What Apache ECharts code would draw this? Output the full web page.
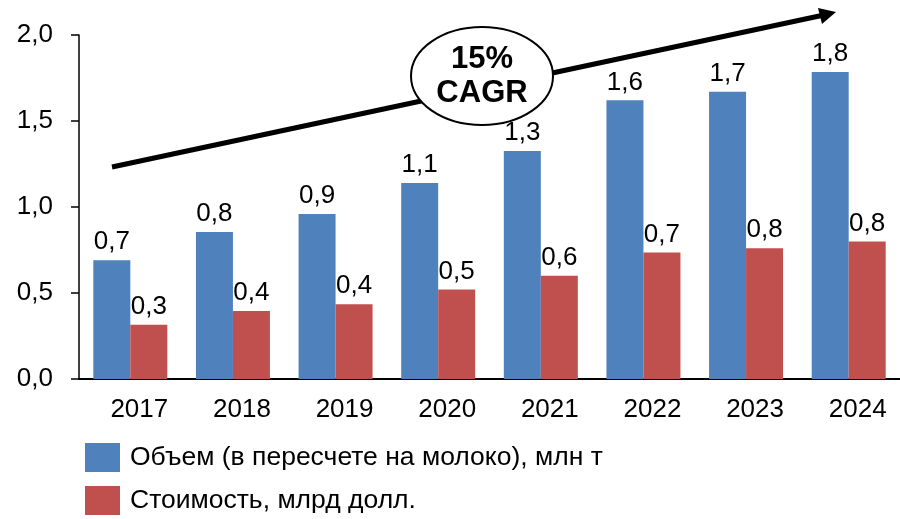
<!DOCTYPE html>
<html>
<head>
<meta charset="utf-8">
<title>Объем и стоимость</title>
<script src="https://cdn.jsdelivr.net/npm/echarts@6/dist/echarts.min.js"></script>
<style>
    html, body { margin: 0; padding: 0; background: #fff; }
    #chart { width: 900px; height: 519px; }
</style>
</head>
<body>
<div id="chart"></div>
<script>
// Data
// ------------------------------

var years = ['2017', '2018', '2019', '2020', '2021', '2022', '2023', '2024'];
var volumeValues = [0.69, 0.855, 0.96, 1.14, 1.325, 1.62, 1.67, 1.785];
var volumeLabels = ['0,7', '0,8', '0,9', '1,1', '1,3', '1,6', '1,7', '1,8'];
var costValues = [0.315, 0.395, 0.435, 0.52, 0.6, 0.735, 0.76, 0.8];
var costLabels = ['0,3', '0,4', '0,4', '0,5', '0,6', '0,7', '0,8', '0,8'];
var seriesNames = ['Объем (в пересчете на молоко), млн т', 'Стоимость, млрд долл.'];
var cagrText = '15%\nCAGR';


// Chart
// ------------------------------

document.addEventListener('DOMContentLoaded', function() {
    var chart_element = document.getElementById('chart');
    var chart = echarts.init(chart_element, null, { renderer: 'canvas' });

    var fontFamily = '"Liberation Sans", Arial, sans-serif';

    chart.setOption({
        animation: false,
        color: ['#4F81BD', '#C0504D'],
        textStyle: {
            fontFamily: fontFamily,
            color: '#000'
        },

        grid: {
            left: 79,
            top: 35,
            width: 825,
            bottom: 140,
            containLabel: false
        },

        legend: {
            orient: 'vertical',
            left: 85,
            top: 443,
            padding: 0,
            itemWidth: 35,
            itemHeight: 29,
            itemGap: 14,
            icon: 'rect',
            data: seriesNames,
            textStyle: {
                fontSize: 26.5,
                color: '#000',
                fontFamily: fontFamily,
                padding: [0, 0, 0, 5]
            }
        },

        xAxis: {
            type: 'category',
            data: years,
            axisLine: { lineStyle: { color: '#000', width: 2 } },
            axisTick: { show: false },
            axisLabel: {
                fontSize: 26,
                color: '#000',
                margin: 18,
                padding: [0, 0, 0, 18]
            }
        },

        yAxis: {
            type: 'value',
            min: 0,
            max: 2,
            interval: 0.5,
            splitLine: { show: false },
            axisLine: { show: true, lineStyle: { color: '#000', width: 1.5 } },
            axisTick: { show: true, length: 8, lineStyle: { color: '#000', width: 1.5 } },
            axisLabel: {
                fontSize: 26,
                color: '#000',
                margin: 26,
                formatter: function(v) { return v.toFixed(1).replace('.', ','); }
            }
        },

        series: [
            {
                name: seriesNames[0],
                type: 'bar',
                barWidth: 37,
                barGap: '0%',
                data: volumeValues,
                label: {
                    show: true,
                    position: 'top',
                    distance: 5,
                    fontSize: 26,
                    color: '#000',
                    formatter: function(p) { return volumeLabels[p.dataIndex]; }
                }
            },
            {
                name: seriesNames[1],
                type: 'bar',
                barWidth: 37,
                data: costValues,
                label: {
                    show: true,
                    position: 'top',
                    distance: 5,
                    fontSize: 26,
                    color: '#000',
                    formatter: function(p) { return costLabels[p.dataIndex]; }
                }
            }
        ],

        // Growth arrow with CAGR bubble
        graphic: [
            {
                type: 'line',
                shape: { x1: 112, y1: 167, x2: 824, y2: 15 },
                style: { stroke: '#000', lineWidth: 5 },
                z: 10
            },
            {
                type: 'polygon',
                shape: { points: [[836, 12], [818, 8], [822, 24]] },
                style: { fill: '#000' },
                z: 10
            },
            {
                type: 'ellipse',
                shape: { cx: 482, cy: 76, rx: 71, ry: 49 },
                style: { fill: '#fff', stroke: '#000', lineWidth: 2 },
                z: 11
            },
            {
                type: 'text',
                x: 482,
                y: 76,
                style: {
                    text: cagrText,
                    fontFamily: fontFamily,
                    fontSize: 31,
                    fontWeight: 'bold',
                    lineHeight: 34,
                    fill: '#000',
                    align: 'center',
                    verticalAlign: 'middle'
                },
                z: 12
            }
        ]
    });

    window.addEventListener('resize', function() {
        chart.resize();
    });
});
</script>
</body>
</html>
